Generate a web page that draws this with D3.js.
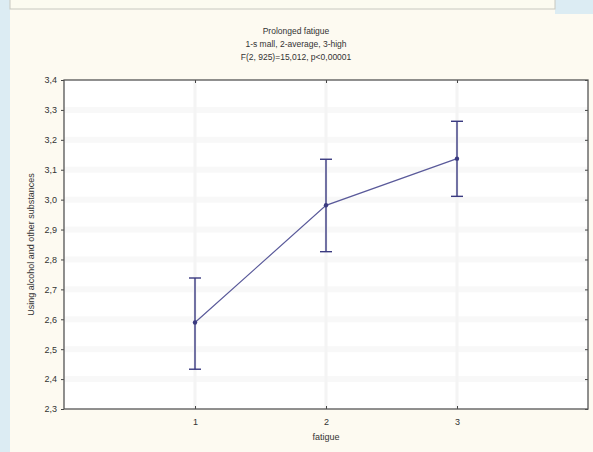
<!DOCTYPE html>
<html>
<head>
<meta charset="utf-8">
<script src="https://cdn.jsdelivr.net/npm/d3@7"></script>
<style>
  html, body { margin: 0; padding: 0; background: #fdfaf1; }
  svg { display: block; font-family: "Liberation Sans", Arial, sans-serif; }
  .axis text { font-size: 9px; fill: #333; }
  .axis path, .axis line { stroke: #444; }
  .title { font-size: 8.5px; fill: #333; }
  .label { font-size: 9px; fill: #333; }
</style>
</head>
<body>
<div id="chart"></div>
<script>
const categories = [1, 2, 3];
const means = [2.589, 2.981, 3.137];
const upper = [2.738, 3.135, 3.262];
const lower = [2.433, 2.826, 3.011];
const yTicks = [2.3, 2.4, 2.5, 2.6, 2.7, 2.8, 2.9, 3.0, 3.1, 3.2, 3.3, 3.4];
const titleLines = ["Prolonged fatigue", "1-s mall, 2-average, 3-high", "F(2, 925)=15,012, p<0,00001"];

const svgWidth = 593, svgHeight = 452;
const margin = {top: 80, right: 5, bottom: 43, left: 64};
const width = svgWidth - margin.left - margin.right,
    height = svgHeight - margin.top - margin.bottom;

const root = d3.select("#chart").append("svg")
    .attr("width", svgWidth)
    .attr("height", svgHeight);

// surrounding window chrome
root.append("rect").attr("x", 0).attr("y", 0).attr("width", 10).attr("height", svgHeight).attr("fill", "#dcecf3");
root.append("rect").attr("x", 555).attr("y", 0).attr("width", 38).attr("height", 14).attr("fill", "#dcecf3");
root.append("rect").attr("x", 10).attr("y", -2).attr("width", 545).attr("height", 11).attr("fill", "#fcfbf0").attr("stroke", "#c8c8c0");

const svg = root.append("g")
    .attr("transform", `translate(${margin.left},${margin.top})`);

const x = d3.scaleLinear().domain([0, 4]).range([0, width]);
const y = d3.scaleLinear().domain([2.3, 3.4]).range([height, 0]);

svg.append("rect")
    .attr("width", width)
    .attr("height", height)
    .attr("fill", "#ffffff");

// faint horizontal bands
svg.selectAll(".band")
    .data(yTicks.slice(1, -1))
    .enter().append("rect")
    .attr("class", "band")
    .attr("x", 0)
    .attr("width", width)
    .attr("y", d => y(d) - 3)
    .attr("height", 6)
    .attr("fill", "#f8f8f8");

svg.selectAll(".vgrid")
    .data(categories)
    .enter().append("line")
    .attr("x1", d => x(d))
    .attr("x2", d => x(d))
    .attr("y1", 0)
    .attr("y2", height)
    .attr("stroke", "#f4f4f4")
    .attr("stroke-width", 3);

const yAxis = d3.axisLeft(y).tickValues(yTicks).tickSize(3).tickPadding(4)
    .tickFormat(d => d3.format(".1f")(d).replace(".", ","));
const xAxis = d3.axisBottom(x).tickValues(categories).tickSize(-3).tickPadding(10)
    .tickFormat(d3.format("d"));

svg.append("g")
    .attr("class", "y axis")
    .call(yAxis)
    .call(g => g.select(".domain").remove());

svg.append("g")
    .attr("class", "y axis")
    .attr("transform", `translate(${width},0)`)
    .call(d3.axisLeft(y).tickValues(yTicks).tickSize(3).tickFormat(""))
    .call(g => g.select(".domain").remove());

svg.append("g")
    .attr("class", "x axis")
    .attr("transform", `translate(0,${height})`)
    .call(xAxis)
    .call(g => g.select(".domain").remove());

svg.append("g")
    .attr("class", "x axis")
    .call(d3.axisBottom(x).tickValues(categories).tickSize(3).tickFormat(""))
    .call(g => g.select(".domain").remove());

svg.append("rect")
    .attr("width", width)
    .attr("height", height)
    .attr("fill", "none")
    .attr("stroke", "#555")
    .attr("stroke-width", 1.3);

const data = categories.map((c, i) => ({c, m: means[i], hi: upper[i], lo: lower[i]}));

svg.append("path")
    .datum(data)
    .attr("fill", "none")
    .attr("stroke", "#5a5a9a")
    .attr("stroke-width", 1.2)
    .attr("d", d3.line().x(d => x(d.c)).y(d => y(d.m)));

const err = svg.selectAll(".err")
    .data(data)
    .enter().append("g")
    .attr("stroke", "#3a3a80")
    .attr("stroke-width", 1.4);
err.append("line")
    .attr("x1", d => x(d.c)).attr("x2", d => x(d.c))
    .attr("y1", d => y(d.hi)).attr("y2", d => y(d.lo));
err.append("line")
    .attr("x1", d => x(d.c) - 6).attr("x2", d => x(d.c) + 6)
    .attr("y1", d => y(d.hi)).attr("y2", d => y(d.hi));
err.append("line")
    .attr("x1", d => x(d.c) - 6).attr("x2", d => x(d.c) + 6)
    .attr("y1", d => y(d.lo)).attr("y2", d => y(d.lo));

svg.selectAll(".point")
    .data(data)
    .enter().append("circle")
    .attr("cx", d => x(d.c))
    .attr("cy", d => y(d.m))
    .attr("r", 2.2)
    .attr("fill", "#3a3a80");

root.selectAll(".title")
    .data(titleLines)
    .enter().append("text")
    .attr("class", "title")
    .attr("x", 296)
    .attr("y", (d, i) => 34 + i * 13)
    .attr("text-anchor", "middle")
    .text(d => d);

svg.append("text")
    .attr("class", "label")
    .attr("x", x(2))
    .attr("y", height + 31)
    .attr("text-anchor", "middle")
    .text("fatigue");

svg.append("text")
    .attr("class", "label")
    .attr("transform", `translate(-30,${height / 2}) rotate(-90)`)
    .attr("text-anchor", "middle")
    .text("Using alcohol and other substances");
</script>
</body>
</html>
